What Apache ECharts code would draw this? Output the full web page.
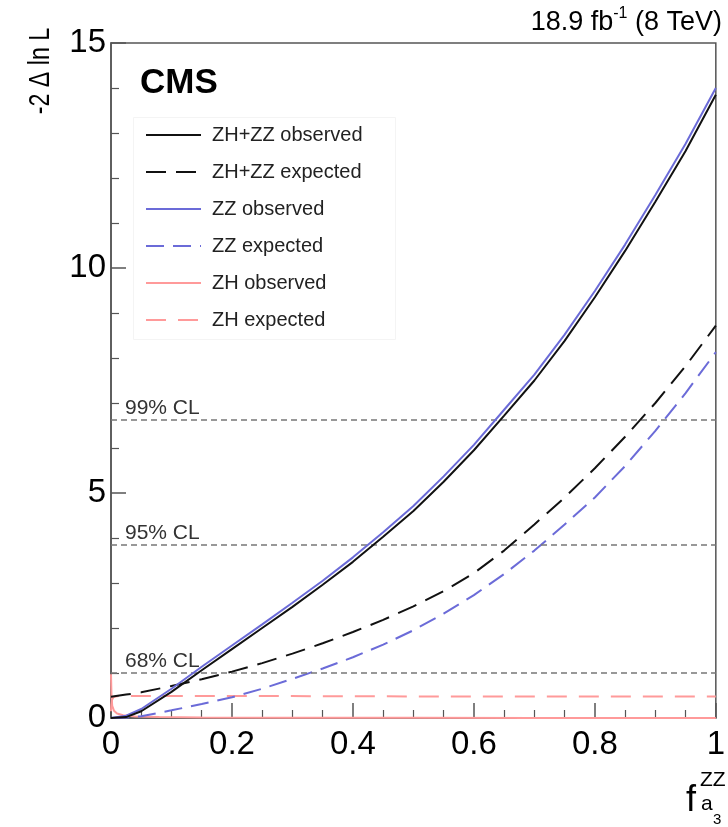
<!DOCTYPE html>
<html>
<head>
<meta charset="utf-8">
<script src="https://cdn.jsdelivr.net/npm/echarts@6/dist/echarts.min.js"></script>
<style>
  html, body { margin: 0; padding: 0; background: #fff; }
  #chart { width: 728px; height: 827px; }
</style>
</head>
<body>
<div id="chart"></div>
<script>
// ---- data ----
const fGrid = [0, 0.025, 0.05, 0.1, 0.15, 0.2, 0.25, 0.3, 0.35, 0.4, 0.45, 0.5, 0.55, 0.6, 0.65, 0.7, 0.75, 0.8, 0.85, 0.9, 0.95, 1.0];
const zhzzObserved = [0, 0.02, 0.15, 0.58, 1.06, 1.53, 2.0, 2.47, 2.96, 3.47, 4.03, 4.6, 5.25, 5.95, 6.72, 7.5, 8.38, 9.35, 10.38, 11.47, 12.6, 13.85];
const zhzzExpected = [0.47, 0.52, 0.57, 0.71, 0.86, 1.03, 1.22, 1.43, 1.66, 1.91, 2.18, 2.48, 2.82, 3.22, 3.72, 4.3, 4.9, 5.55, 6.25, 7.0, 7.82, 8.72];
const zzObserved = [0, 0.05, 0.2, 0.65, 1.14, 1.61, 2.08, 2.56, 3.05, 3.57, 4.13, 4.71, 5.37, 6.07, 6.85, 7.63, 8.52, 9.49, 10.52, 11.62, 12.76, 14.0];
const zzExpected = [0, 0.01, 0.04, 0.17, 0.31, 0.46, 0.65, 0.87, 1.1, 1.35, 1.63, 1.95, 2.32, 2.73, 3.2, 3.72, 4.3, 4.9, 5.6, 6.38, 7.22, 8.13];
const fZHobs = [0, 0.0008, 0.002, 0.005, 0.01, 0.02, 0.04, 0.08, 0.15, 0.3, 0.5, 0.7, 1.0];
const zhObserved = [0.97, 0.5, 0.27, 0.16, 0.1, 0.06, 0.035, 0.02, 0.012, 0.006, 0.003, 0.002, 0.001];
const fZHexp = [0, 0.0005, 0.0015, 0.004, 0.008, 0.015, 0.05, 0.2, 0.5, 0.8, 1.0];
const zhExpected = [0.15, 0.3, 0.4, 0.46, 0.48, 0.49, 0.49, 0.49, 0.48, 0.48, 0.48];
const clLevels = [1.0, 3.84, 6.63];
const clLabels = ['68% CL', '95% CL', '99% CL'];
const xTicks = [0, 0.2, 0.4, 0.6, 0.8, 1];
const yTicks = [0, 5, 10, 15];
const seriesNames = ['ZH+ZZ observed', 'ZH+ZZ expected', 'ZZ observed', 'ZZ expected', 'ZH observed', 'ZH expected'];

// ---- chart ----
const FONT = "'Liberation Sans', Arial, Helvetica, sans-serif";
const BLUE = '#6b6bd8';
const PINK = '#ff9a9a';
const pairs = (xs, ys) => xs.map((x, i) => [x, ys[i]]);

const chart = echarts.init(document.getElementById('chart'), null, { renderer: 'canvas' });

function lineSeries(name, xs, ys, color, dash, z) {
  return {
    name: name,
    type: 'line',
    data: pairs(xs, ys),
    showSymbol: false,
    symbol: 'none',
    smooth: false,
    clip: true,
    z: z,
    lineStyle: { color: color, width: 2, type: dash || 'solid' },
    itemStyle: { color: color },
    emphasis: { disabled: true }
  };
}

const option = {
  animation: false,
  backgroundColor: '#ffffff',
  textStyle: { fontFamily: FONT },
  grid: {
    left: 111, right: 6, top: 43, bottom: 109,
    show: true, borderColor: '#555', borderWidth: 1.5, backgroundColor: 'transparent'
  },
  legend: {
    orient: 'vertical',
    left: 140, top: 120,
    itemWidth: 55, itemHeight: 14, itemGap: 17,
    data: seriesNames,
    itemStyle: { color: 'transparent', borderColor: 'transparent', borderWidth: 0, opacity: 0 },
    lineStyle: { width: 2 },
    textStyle: { fontSize: 20, color: '#222', fontFamily: FONT, padding: [0, 0, 0, 6] },
    selectedMode: false
  },
  xAxis: {
    type: 'value', min: 0, max: 1, interval: 0.2,
    axisLine: { show: true, lineStyle: { color: '#555', width: 1.5 } },
    axisTick: { show: true, inside: true, length: 15, lineStyle: { color: '#555', width: 1.5 } },
    minorTick: { show: true, splitNumber: 4, length: 8, lineStyle: { color: '#555', width: 1.2 } },
    splitLine: { show: false },
    axisLabel: {
      fontSize: 33, color: '#000', margin: 10, fontFamily: FONT,
      formatter: v => { const t = xTicks.find(k => Math.abs(k - v) < 1e-9); return t === undefined ? '' : String(t); }
    }
  },
  yAxis: {
    type: 'value', min: 0, max: 15, interval: 5,
    axisLine: { show: true, lineStyle: { color: '#555', width: 1.5 } },
    axisTick: { show: true, inside: true, length: 15, lineStyle: { color: '#555', width: 1.5 } },
    minorTick: { show: true, splitNumber: 5, length: 8, lineStyle: { color: '#555', width: 1.2 } },
    splitLine: { show: false },
    axisLabel: {
      fontSize: 33, color: '#000', margin: 5, fontFamily: FONT,
      formatter: v => { const t = yTicks.find(k => Math.abs(k - v) < 1e-9); return t === undefined ? '' : String(t); }
    }
  },
  series: [
    {
      name: 'CL', type: 'line', data: [], silent: true, z: 1,
      markLine: {
        silent: true, symbol: ['none', 'none'], animation: false,
        lineStyle: { color: '#777', width: 1.5, type: [6, 4] },
        label: {
          show: true, position: 'insideStartTop', distance: [14, 1],
          fontSize: 21, color: '#333', fontFamily: FONT,
          formatter: p => clLabels[p.dataIndex]
        },
        data: clLevels.map(v => ({ yAxis: v }))
      }
    },
    lineSeries(seriesNames[4], fZHobs, zhObserved, PINK, 'solid', 3),
    lineSeries(seriesNames[5], fZHexp, zhExpected, PINK, [20, 12], 3),
    lineSeries(seriesNames[3], fGrid, zzExpected, BLUE, [18, 9], 4),
    lineSeries(seriesNames[1], fGrid, zhzzExpected, '#111', [20, 10], 5),
    lineSeries(seriesNames[2], fGrid, zzObserved, BLUE, 'solid', 6),
    lineSeries(seriesNames[0], fGrid, zhzzObserved, '#111', 'solid', 7)
  ],
  graphic: [
    { type: 'rect', left: 131, top: 115, z: -1, silent: true,
      shape: { width: 262, height: 222 }, style: { fill: 'none', stroke: '#f4f4f4', lineWidth: 1 } },
    { type: 'text', left: 140, top: 66, silent: true,
      style: { text: 'CMS', font: "bold 35px " + FONT, fill: '#000' } },
    { type: 'text', right: 6, top: 6, silent: true,
      style: {
        text: '{a|18.9 fb}{s|-1}{a| (8 TeV)}',
        rich: {
          a: { fontSize: 27, fontFamily: FONT, fill: '#000', verticalAlign: 'bottom', lineHeight: 30 },
          s: { fontSize: 16, fontFamily: FONT, fill: '#000', verticalAlign: 'top', lineHeight: 30, padding: [0, 0, 12, 0] }
        }
      } },
    { type: 'text', x: 41, y: 71, rotation: Math.PI / 2, scaleX: 0.8, silent: true,
      style: { text: '-2 \u0394 ln L', font: "29px " + FONT, fill: '#000', align: 'center', verticalAlign: 'middle' } },
    { type: 'text', x: 686, y: 819, silent: true,
      style: { text: 'f', font: "36px " + FONT, fill: '#000', align: 'left', verticalAlign: 'bottom' } },
    { type: 'text', x: 700, y: 791, silent: true,
      style: { text: 'ZZ', font: "21px " + FONT, fill: '#000', align: 'left', verticalAlign: 'bottom' } },
    { type: 'text', x: 701, y: 815, silent: true,
      style: { text: 'a', font: "21px " + FONT, fill: '#000', align: 'left', verticalAlign: 'bottom' } },
    { type: 'text', x: 713, y: 827, silent: true,
      style: { text: '3', font: "15px " + FONT, fill: '#000', align: 'left', verticalAlign: 'bottom' } }
  ]
};
chart.setOption(option);
</script>
</body>
</html>
